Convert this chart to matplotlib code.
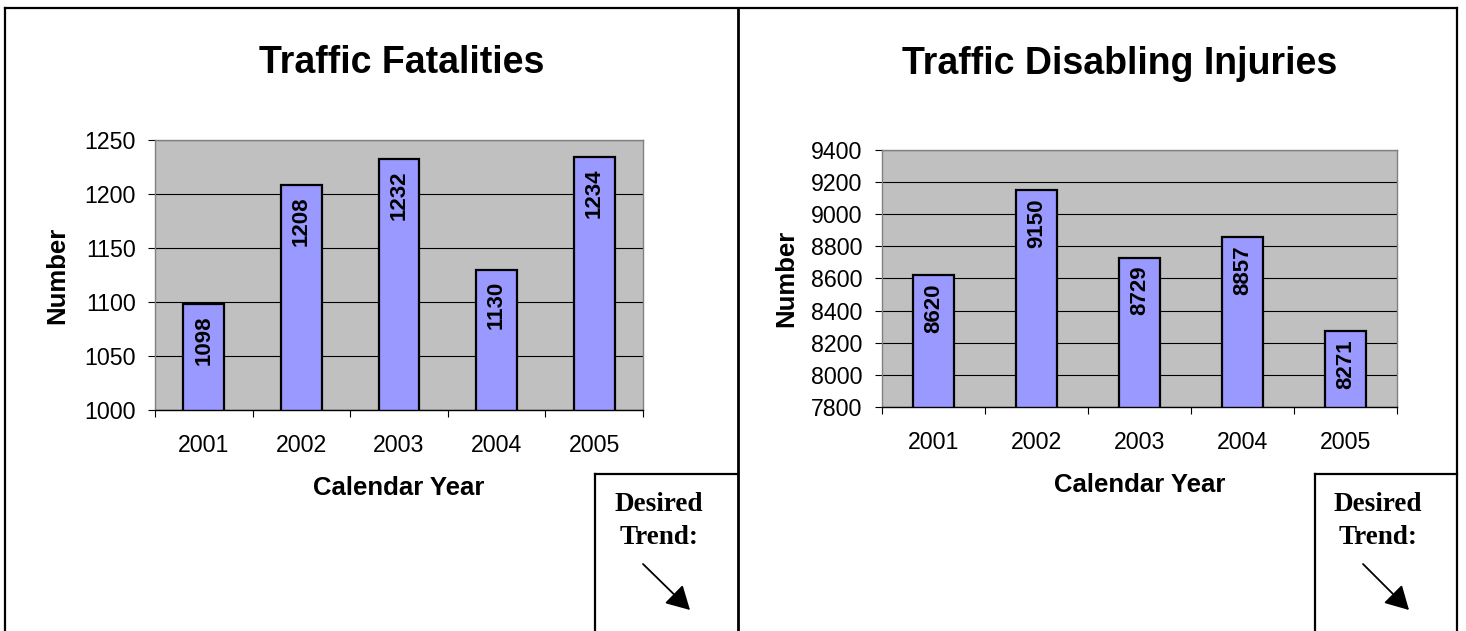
import matplotlib
matplotlib.use('Agg')
import matplotlib.pyplot as plt
from matplotlib.lines import Line2D
from matplotlib.patches import FancyArrowPatch

# ---- data ----
years = ['2001', '2002', '2003', '2004', '2005']
fatalities = [1098, 1208, 1232, 1130, 1234]
injuries = [8620, 9150, 8729, 8857, 8271]
fat_ticks = [1000, 1050, 1100, 1150, 1200, 1250]
inj_ticks = [7800, 8000, 8200, 8400, 8600, 8800, 9000, 9200, 9400]
titles = ['Traffic Fatalities', 'Traffic Disabling Injuries']
xlabel = 'Calendar Year'
ylabel = 'Number'
trend_text = 'Desired\nTrend:'

SANS = ['Liberation Sans', 'DejaVu Sans']
SERIF = ['Liberation Serif', 'DejaVu Serif']
plt.rcParams['font.family'] = SANS

W, H = 1466, 631
fig = plt.figure(figsize=(W / 100, H / 100), dpi=100)


def fx(x):
    return x / W


def fy(y):
    return 1 - y / H


def make_chart(box, values, yticks, bar_w, title, title_xy, ylab_x, xlab_y, lab_off):
    l, t, r, b = box
    ax = fig.add_axes([fx(l), fy(b), (r - l) / W, (b - t) / H])
    ax.set_facecolor('#C0C0C0')
    xs = list(range(len(values)))
    ax.set_xlim(-0.5, len(values) - 0.5)
    ax.set_ylim(yticks[0], yticks[-1])
    ax.set_yticks(yticks)
    ax.set_yticklabels([str(v) for v in yticks])
    ax.yaxis.grid(True, color='black', lw=0.8)
    ax.set_axisbelow(True)
    ax.bar(xs, values, width=bar_w, color='#9999FF', edgecolor='black',
           linewidth=1.6, zorder=2)
    for xi, v in zip(xs, values):
        ax.annotate(str(v), (xi, v), xytext=(0, -lab_off), textcoords='offset pixels',
                    rotation=90, ha='center', va='top', fontsize=16,
                    fontweight='bold', zorder=3)
    # x ticks: boundaries (major, no labels), labels at centres (minor)
    ax.set_xticks([i - 0.5 for i in range(len(values) + 1)])
    ax.set_xticklabels([])
    ax.set_xticks(xs, minor=True)
    ax.set_xticklabels(years, minor=True)
    ax.tick_params(axis='x', which='major', length=5, width=0.8, color='black', direction='out')
    ax.tick_params(axis='x', which='minor', length=0, pad=17, labelsize=16.7)
    ax.tick_params(axis='y', length=5, width=0.8, color='black', direction='out',
                   pad=9, labelsize=16.7)
    for s in ['top', 'right', 'left']:
        ax.spines[s].set_color('#808080')
        ax.spines[s].set_linewidth(1.0)
    ax.spines['bottom'].set_color('black')
    ax.spines['bottom'].set_linewidth(1.0)
    fig.text(fx(title_xy[0]), fy(title_xy[1]), title, ha='center', va='baseline',
             fontsize=27, fontweight='bold')
    fig.text(fx(ylab_x), fy((t + b) / 2), ylabel, rotation=90, ha='center', va='center',
             fontsize=18.5, fontweight='bold')
    fig.text(fx((l + r) / 2), fy(xlab_y), xlabel, ha='center', va='center',
             fontsize=18.5, fontweight='bold')
    return ax


make_chart((155, 140, 643, 410), fatalities, fat_ticks, 0.42, titles[0], (402, 73), 57, 488, 11)
make_chart((882, 150, 1397, 407), injuries, inj_ticks, 0.40, titles[1], (1120, 74), 786, 485, 8)


def fig_line(xs, ys, lw=1.6):
    fig.add_artist(Line2D([fx(x) for x in xs], [fy(y) for y in ys], color='black',
                          lw=lw, transform=fig.transFigure, solid_capstyle='projecting'))


# outer frame and divider
fig_line([5, 5], [7.5, 640])
fig_line([5, 1457], [7.5, 7.5])
fig_line([1457, 1457], [7.5, 640])
fig_line([738, 738], [7.5, 640], lw=2.0)

# "Desired Trend" boxes
for bx0, bx1, ax0, ay0, ax1, ay1 in [(595, 738, 643, 564, 690, 610),
                                     (1315, 1457, 1363, 564, 1409, 610)]:
    fig_line([bx0, bx0], [474, 640])
    fig_line([bx0, bx1], [474, 474])
    fig.text(fx((bx0 + bx1) / 2 - 8), fy(521), trend_text, ha='center', va='center',
             fontsize=19.5, fontweight='bold', family=SERIF, linespacing=1.45)
    arr = FancyArrowPatch((fx(ax0), fy(ay0)), (fx(ax1), fy(ay1)), transform=fig.transFigure,
                          arrowstyle='-|>,head_length=0.9,head_width=0.5',
                          mutation_scale=16, color='black', lw=1.3,
                          shrinkA=0, shrinkB=0)
    fig.add_artist(arr)

fig.savefig('out.png', dpi=100)
